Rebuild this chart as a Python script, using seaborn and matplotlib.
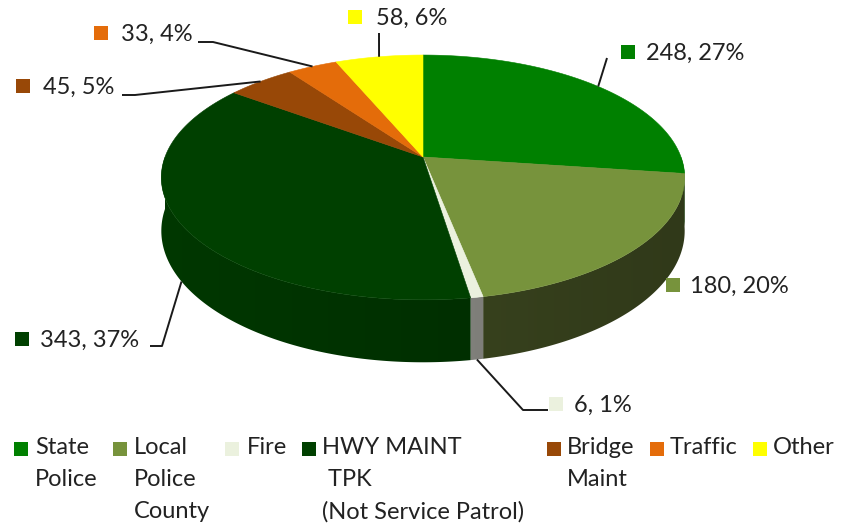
import numpy as np
import pandas as pd
import seaborn as sns
import matplotlib.pyplot as plt
from matplotlib.patches import Polygon

# data
categories = ["State Police", "Local Police County", "Fire",
              "HWY MAINT TPK (Not Service Patrol)", "Bridge Maint", "Traffic", "Other"]
legend_labels = ["State\nPolice", "Local\nPolice\nCounty", "Fire",
                 "HWY MAINT\n TPK\n(Not Service Patrol)", "Bridge\nMaint", "Traffic", "Other"]
counts = [248, 180, 6, 343, 45, 33, 58]

top_colors = ["#008000", "#77933C", "#EBF1DE", "#004000", "#984807", "#E46C0A", "#FFFF00"]
side_colors = ["#005500", "#37411D", "#7F7F7A", "#002F00", "#5E2C04", "#8C4206", "#A0A000"]

# percentages that sum to 100 (largest remainder, like Excel)
vals = np.array(counts, dtype=float)
raw = vals / vals.sum() * 100
pct = np.floor(raw).astype(int)
rest = 100 - pct.sum()
for i in np.argsort(-(raw - pct))[:rest]:
    pct[i] += 1

sns.set_theme(style="white")
plt.rcParams['font.family'] = ['Lato', 'DejaVu Sans']
TXT = "#222222"
FS = 17

fig = plt.figure(figsize=(8.46, 5.29), dpi=100)
ax = fig.add_axes([0, 0, 1, 1])

# 3d pie geometry (pixels)
CX, CY, RX, RY, K, DEPTH = 423, 157, 258, 119, 0.167, 52


def top_pt(t):
    w = 1 + K * np.sin(t)
    return CX + RX * np.cos(t) / w, CY - RY * np.sin(t) / w


def bot_pt(t):
    x, y = top_pt(t)
    return x, y + DEPTH / (1 + K * np.sin(t))


def rgb(c):
    return np.array([int(c[i:i + 2], 16) / 255 for i in (1, 3, 5)])


edges = np.pi / 2 - 2 * np.pi * np.concatenate([[0], np.cumsum(vals)]) / vals.sum()

# side walls (front half only), shaded left->right
for i in range(len(counts)):
    a0, a1 = edges[i], edges[i + 1]
    hi, lo = min(a0, 0), max(a1, -np.pi)
    if lo >= hi:
        continue
    ts = np.linspace(hi, lo, 200)
    poly = [top_pt(t) for t in ts] + [bot_pt(t) for t in ts[::-1]]
    patch = Polygon(poly, closed=True, fc='none', ec='none')
    ax.add_patch(patch)
    xs = np.array([p[0] for p in poly])
    ys = np.array([p[1] for p in poly])
    x0, x1 = xs.min() - 2, xs.max() + 2
    gx = np.linspace(x0, x1, 300)
    u = np.clip((gx - CX) / RX, -1, 1)
    f = 1.18 - 0.3 * (1 + u) / 2
    img = np.clip(rgb(side_colors[i])[None, None, :] * f[None, :, None], 0, 1)
    im = ax.imshow(img, extent=(x0, x1, ys.max() + 2, ys.min() - 2), aspect='auto',
                   interpolation='bilinear', zorder=1)
    im.set_clip_path(patch)

# top faces
for i in range(len(counts)):
    ts = np.linspace(edges[i], edges[i + 1], 200)
    pts = [(CX, CY)] + [top_pt(t) for t in ts]
    ax.add_patch(Polygon(pts, closed=True, fc=top_colors[i], ec=top_colors[i], lw=0.4, zorder=2))

# data labels
lab_sq = [(628, 52), (673, 285), (556, 404), (22, 339), (23, 86), (101, 33), (355, 17)]
lab_txt_x = [646, 690, 574, 40, 43, 121, 376]
leaders = [[(607, 58)], [], [(523, 410), (548, 410)], [(162, 346), (150, 346)],
           [(135, 95), (122, 95)], [(213, 42), (198, 42)], [(379, 33)]]

for i in range(len(counts)):
    tm = (edges[i] + edges[i + 1]) / 2
    if leaders[i]:
        start = top_pt(tm) if np.sin(tm) > 0 else bot_pt(tm)
        line = [start] + leaders[i]
        ax.plot([p[0] for p in line], [p[1] for p in line], color="#1a1a1a", lw=1.4,
                solid_capstyle='butt', zorder=3)
    ax.text(lab_txt_x[i], lab_sq[i][1] + 1, f"{counts[i]}, {pct[i]}%", fontsize=FS,
            color=TXT, va='center', ha='left')

# legend
leg_sq_x = [21, 120, 232, 309, 554, 657, 760]
leg_txt_x = [35, 134, 247, 322, 567, 670, 773]
row_y = [448, 480, 512]
for i, lab in enumerate(legend_labels):
    for j, line in enumerate(lab.split("\n")):
        ax.text(leg_txt_x[i], row_y[j], line, fontsize=FS, color=TXT, va='center', ha='left')

sq_df = pd.DataFrame({
    "category": categories * 2,
    "x": [p[0] for p in lab_sq] + leg_sq_x,
    "y": [p[1] for p in lab_sq] + [row_y[0] + 1] * len(categories),
})
sns.scatterplot(data=sq_df, x="x", y="y", hue="category", palette=top_colors,
                hue_order=categories, marker='s', s=115, linewidth=0, legend=False, ax=ax)
ax.set_xlim(0, 846)
ax.set_ylim(529, 0)
ax.axis('off')

plt.savefig('out.png', dpi=100)
